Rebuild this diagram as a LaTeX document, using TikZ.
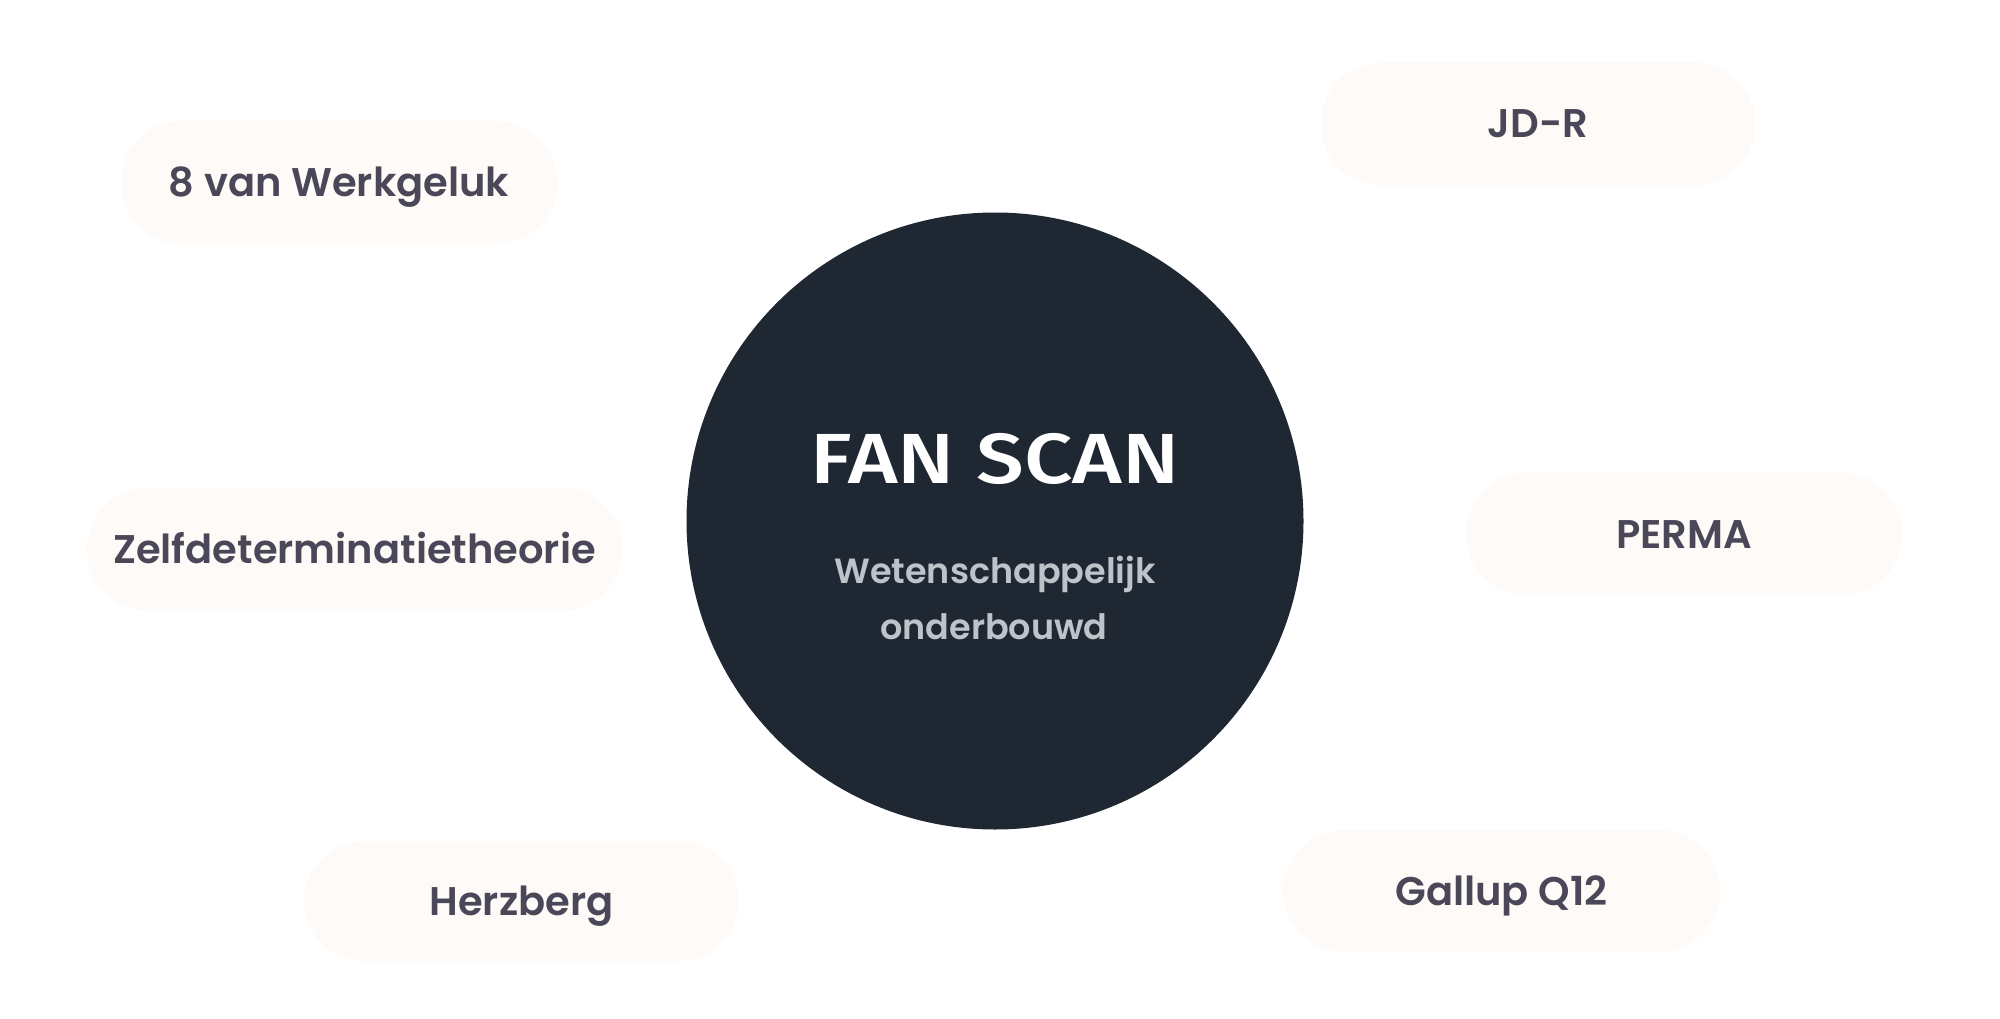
\documentclass[tikz,border=0pt]{standalone}
\usepackage{fontspec}
\newfontfamily\pillfont{Poppins SemiBold}
\newfontfamily\titlefont{Fira Sans Medium}[FakeStretch=1.2]
\definecolor{scandark}{HTML}{1E2732}
\definecolor{pillfill}{HTML}{FEFAF7}
\definecolor{pilltext}{HTML}{4A4759}
\definecolor{subgrey}{HTML}{BEC3C9}

\begin{document}
\begin{tikzpicture}[
x=1pt,
y=-1pt,
pillnode/.style={rectangle, fill=pillfill, rounded corners=61pt, minimum height=123pt,
  text=pilltext, font=\pillfont\fontsize{40pt}{48pt}\selectfont, text height=28pt, text depth=0pt, inner sep=0pt},
subline/.style={anchor=base, text=subgrey, font=\pillfont\fontsize{35pt}{42pt}\selectfont, inner sep=0pt},
]
\useasboundingbox (0,0) rectangle (2000,1019);
% centre
\node[circle, fill=scandark, minimum size=617pt, inner sep=0pt] (scan) at (995,521) {};
\node[text=white, font=\titlefont\fontsize{71pt}{80pt}\selectfont, text height=49pt, text depth=0pt, inner sep=0pt] (title) at (995,458.5) {FAN SCAN};
\node[subline] (sub1) at (995,583) {Wetenschappelijk};
\node[subline] (sub2) at (994,639) {onderbouwd};
% models round the scan
\node[pillnode, minimum width=436pt] (werkgeluk) at (339,182.5) {8 van Werkgeluk};
\node[pillnode, minimum width=434pt] (jdr) at (1538,124) {JD-R};
\node[pillnode, minimum width=535pt] (zelf) at (354.5,549) {Zelfdeterminatietheorie};
\node[pillnode, minimum width=436pt] (perma) at (1684,534) {PERMA};
\node[pillnode, minimum width=435pt, minimum height=120pt] (herzberg) at (521.5,901) {Herzberg};
\node[pillnode, minimum width=437pt, minimum height=122pt] (gallup) at (1501.5,891) {Gallup Q12};
\end{tikzpicture}
\end{document}
